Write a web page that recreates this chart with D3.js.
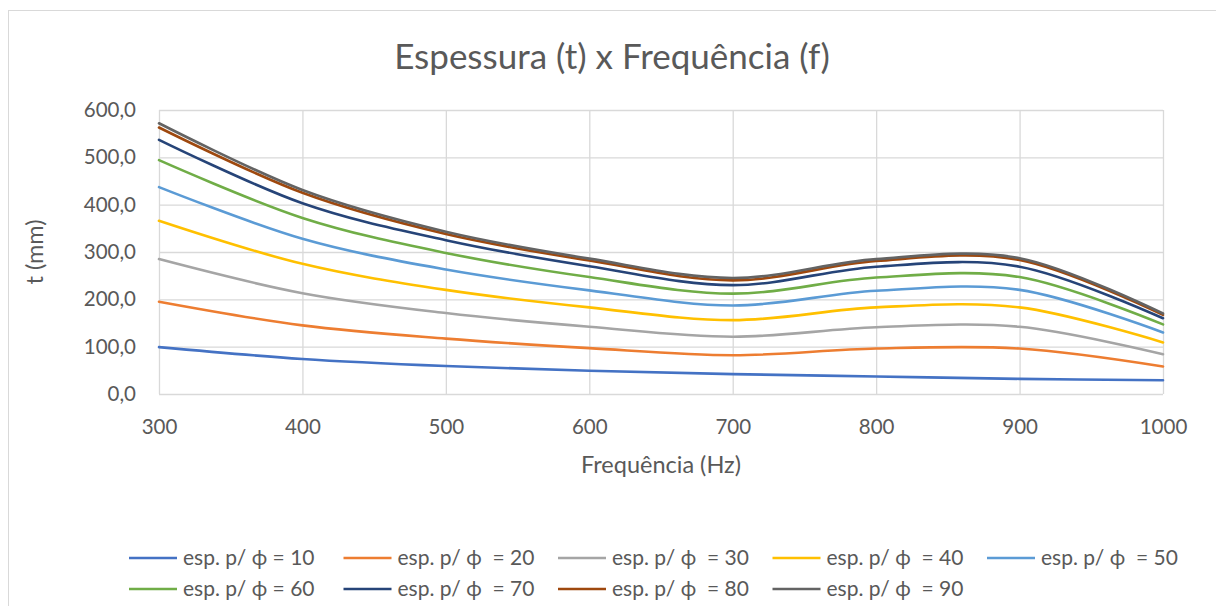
<!DOCTYPE html>
<html><head><meta charset="utf-8">
<script src="https://cdn.jsdelivr.net/npm/d3@7"></script>
<style>body{margin:0;background:#fff;} svg{display:block;}</style>
</head><body>
<svg id="c" width="1216" height="606"></svg>
<script>
const freqs = [300, 400, 500, 600, 700, 800, 900, 1000];
const esp10 = [99, 74, 59, 49, 42, 37, 32, 29];
const esp20 = [195, 145, 117, 97, 82, 96, 96, 58];
const esp30 = [285, 213, 171, 142, 121, 141, 142, 84];
const esp40 = [366, 275, 220, 183, 156, 183, 183, 109];
const esp50 = [437, 328, 263, 219, 187, 218, 220, 130];
const esp60 = [494, 372, 298, 247, 212, 246, 247, 147];
const esp70 = [537, 403, 325, 270, 230, 269, 269, 160];
const esp80 = [563, 425, 338, 282, 240, 281, 283, 167];
const esp90 = [572, 431, 343, 286, 245, 285, 287, 170];
const seriesNames = ["esp. p/ ϕ = 10","esp. p/ ϕ  = 20","esp. p/ ϕ  = 30","esp. p/ ϕ  = 40","esp. p/ ϕ  = 50",
                     "esp. p/ ϕ = 60","esp. p/ ϕ  = 70","esp. p/ ϕ  = 80","esp. p/ ϕ  = 90"];
const seriesValues = [esp10, esp20, esp30, esp40, esp50, esp60, esp70, esp80, esp90];
const colors = ["#4472C4","#ED7D31","#A5A5A5","#FFC000","#5B9BD5","#70AD47","#264478","#9E480E","#636363"];
const xTicks = [300,400,500,600,700,800,900,1000];
const yTicks = [0,100,200,300,400,500,600];
const title = "Espessura (t) x Frequência (f)";
const xTitle = "Frequência (Hz)";
const yTitle = "t (mm)";

const svg = d3.select("#c");
const font = "Lato, 'Open Sans', sans-serif";
const txt = "#595959";

svg.append("rect").attr("x",8.5).attr("y",10.5).attr("width",1210).attr("height",600)
  .attr("fill","#fff").attr("stroke","#D9D9D9");

const m = {l:159, r:1163, t:110, b:394};
const x = d3.scaleLinear().domain([300,1000]).range([m.l, m.r]);
const y = d3.scaleLinear().domain([0,600]).range([m.b, m.t]);

// grid
const gy = svg.append("g").attr("transform",`translate(${m.l},0)`)
  .call(d3.axisLeft(y).tickValues(yTicks).tickSize(-(m.r-m.l)).tickFormat(d => d3.format(".1f")(d).replace(".", ",")));
gy.select(".domain").remove();
gy.selectAll("line").attr("stroke","#D9D9D9").attr("stroke-width",1.3);
gy.selectAll("text").attr("x",-23).attr("font-family",font).attr("font-size",20.5).attr("fill",txt);

const gx = svg.append("g").attr("transform",`translate(0,${m.b})`)
  .call(d3.axisBottom(x).tickValues(xTicks).tickSize(-(m.b-m.t)).tickFormat(d3.format("d")));
gx.select(".domain").remove();
gx.selectAll("line").attr("stroke","#D9D9D9").attr("stroke-width",1.3);
gx.selectAll("text").attr("y",25).attr("dy","0.71em").attr("font-family",font).attr("font-size",20.5).attr("fill",txt);

// lines
const line = d3.line().x((d,i)=>x(freqs[i])).y(d=>y(d)).curve(d3.curveCardinal.tension(0));
seriesValues.forEach((vals,k)=>{
  svg.append("path").datum(vals).attr("d",line).attr("fill","none")
    .attr("stroke",colors[k]).attr("stroke-width",2.6).attr("stroke-linecap","round");
});

// titles
svg.append("text").attr("x",612).attr("y",69).attr("text-anchor","middle")
  .attr("font-family",font).attr("font-size",35).attr("fill",txt).text(title);
svg.append("text").attr("x",(m.l+m.r)/2).attr("y",473).attr("text-anchor","middle")
  .attr("font-family",font).attr("font-size",23.5).attr("fill",txt).text(xTitle);
svg.append("text").attr("transform",`translate(43,${(m.t+m.b)/2}) rotate(-90)`).attr("text-anchor","middle")
  .attr("font-family",font).attr("font-size",23.5).attr("fill",txt).text(yTitle);

// legend
const lg = svg.append("g");
seriesNames.forEach((n,k)=>{
  const col = k%5, row = Math.floor(k/5);
  const lx = 129 + col*214.5, ly = 558 + row*31;
  lg.append("line").attr("x1",lx).attr("x2",lx+48).attr("y1",ly).attr("y2",ly)
    .attr("stroke",colors[k]).attr("stroke-width",2.6);
  lg.append("text").attr("x",lx+54).attr("y",ly).attr("dy","0.35em")
    .attr("font-family",font).attr("font-size",21).attr("fill",txt).attr("xml:space","preserve").style("white-space","pre").text(n);
});
</script>
</body></html>
